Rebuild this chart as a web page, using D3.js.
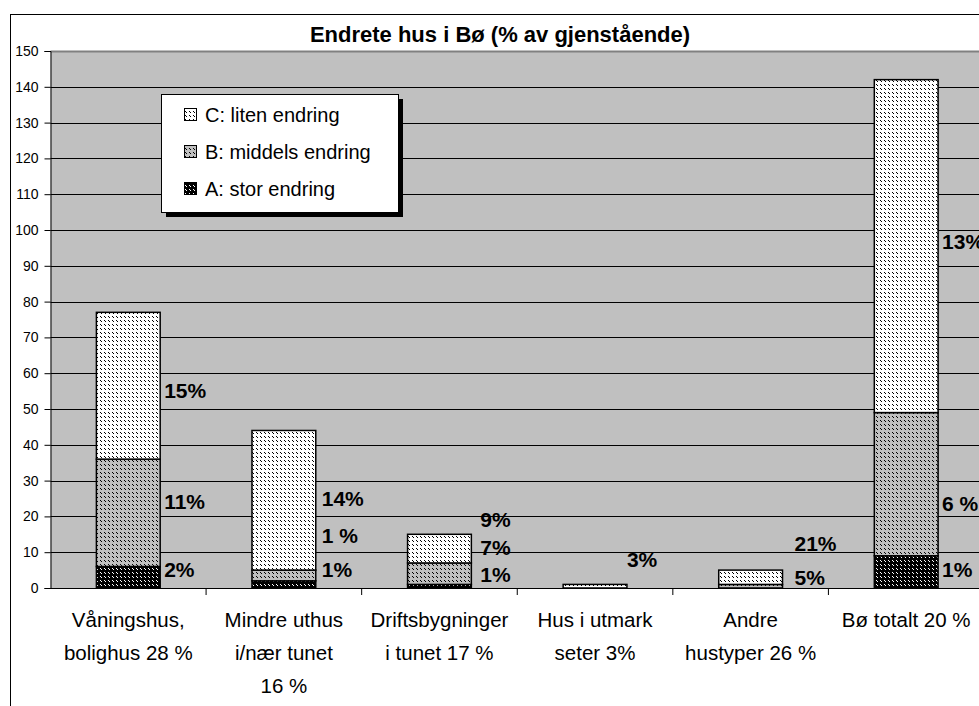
<!DOCTYPE html>
<html>
<head>
<meta charset="utf-8">
<script src="https://cdn.jsdelivr.net/npm/d3@7"></script>
<style>
  body { margin: 0; background: #fff; }
  svg { display: block; font-family: Arial, "Liberation Sans", sans-serif; }
</style>
</head>
<body>
<div id="chart"></div>
<script>
const title = "Endrete hus i Bø (% av gjenstående)";
const categories = [
    ["Våningshus,", "bolighus 28 %"],
    ["Mindre uthus", "i/nær tunet", "16 %"],
    ["Driftsbygninger", "i tunet 17 %"],
    ["Hus i utmark", "seter 3%"],
    ["Andre", "hustyper 26 %"],
    ["Bø totalt 20 %"]
];
const seriesNames = ["A: stor endring", "B: middels endring", "C: liten endring"];
const stor = [6, 2, 1, 0, 0, 9];
const middels = [30, 3, 6, 0, 1, 40];
const liten = [41, 39, 8, 1, 4, 93];
const yTicks = [0, 10, 20, 30, 40, 50, 60, 70, 80, 90, 100, 110, 120, 130, 140, 150];

// percent labels per series, and the value height where each label sits
const labelsA = ["2%", "1%", "1%", "", "", "1%"];
const labelsB = ["11%", "1 %", "7%", "", "5%", "6 %"];
const labelsC = ["15%", "14%", "9%", "3%", "21%", "13%"];
const labelAtA = [5, 5, 3.6, 0, 0, 5];
const labelAtB = [24.1, 14.5, 11.3, 0, 2.9, 23.7];
const labelAtC = [55, 25, 19, 7.8, 12.3, 96.7];
const labelDx = [4, 6, 9, 0, 12, 4];

const width = 979, height = 706;
const plot = { left: 50.5, top: 51, right: 984, bottom: 588 };

const svg = d3.select("#chart").append("svg")
    .attr("width", width)
    .attr("height", height);

// fill patterns
const defs = svg.append("defs");
function addPattern(id, bg, dot) {
    let p = defs.append("pattern")
        .attr("id", id)
        .attr("patternUnits", "userSpaceOnUse")
        .attr("width", 4).attr("height", 4);
    p.append("rect").attr("width", 4).attr("height", 4).attr("fill", bg);
    p.append("rect").attr("x", 0).attr("y", 0).attr("width", 1).attr("height", 1).attr("fill", dot);
    p.append("rect").attr("x", 1).attr("y", 1).attr("width", 1).attr("height", 1).attr("fill", dot);
}
addPattern("patA", "#000", "#fff");
addPattern("patB", "#c0c0c0", "#000");
addPattern("patC", "#fff", "#000");
const fills = ["url(#patA)", "url(#patB)", "url(#patC)"];

// outer chart frame
svg.append("rect")
    .attr("x", 10.5).attr("y", 14.5)
    .attr("width", width + 20).attr("height", height + 20)
    .attr("fill", "#fff").attr("stroke", "#000");

svg.append("text")
    .attr("x", 500).attr("y", 34)
    .attr("dy", "0.35em")
    .attr("text-anchor", "middle")
    .attr("font-weight", "bold")
    .attr("font-size", 22)
    .text(title);

const x = d3.scaleBand()
    .domain(d3.range(categories.length))
    .range([plot.left, plot.right]);

const y = d3.scaleLinear()
    .domain([0, 150])
    .range([plot.bottom, plot.top]);

svg.append("rect")
    .attr("x", plot.left).attr("y", plot.top)
    .attr("width", plot.right - plot.left).attr("height", plot.bottom - plot.top)
    .attr("fill", "#c0c0c0");

svg.append("g")
    .selectAll("line")
    .data(yTicks.filter(d => d > 0))
    .join("line")
    .attr("x1", plot.left).attr("x2", plot.right)
    .attr("y1", d => Math.round(y(d)) + 0.5)
    .attr("y2", d => Math.round(y(d)) + 0.5)
    .attr("stroke", d => d == 150 ? "#808080" : "#000")
    .attr("stroke-width", d => d == 150 ? 2 : 1);

// stacked bars
const rows = categories.map((c, i) => ({ i: i, vals: [stor[i], middels[i], liten[i]] }));
const stack = d3.stack().keys([0, 1, 2]).value((d, k) => d.vals[k]);
const layers = stack(rows);

const barW = x.bandwidth() * 0.41;
const barX = i => x(i) + (x.bandwidth() - barW) / 2;

svg.append("g")
    .selectAll("g")
    .data(layers)
    .join("g")
    .attr("fill", (d, k) => fills[k])
    .selectAll("rect")
    .data(d => d.filter(s => s[1] > s[0]))
    .join("rect")
    .attr("x", d => barX(d.data.i))
    .attr("y", d => y(d[1]))
    .attr("width", barW)
    .attr("height", d => y(d[0]) - y(d[1]))
    .attr("stroke", "#000")
    .attr("stroke-width", 1.5);

// percent labels
const labelSets = [[labelsA, labelAtA], [labelsB, labelAtB], [labelsC, labelAtC]];
const labelData = [];
labelSets.forEach(([texts, at]) => {
    texts.forEach((t, i) => { if (t) labelData.push({ i: i, text: t, v: at[i] }); });
});
svg.append("g")
    .selectAll("text")
    .data(labelData)
    .join("text")
    .attr("x", d => barX(d.i) + barW + labelDx[d.i])
    .attr("y", d => y(d.v))
    .attr("dy", "0.35em")
    .attr("font-weight", "bold")
    .attr("font-size", 21)
    .text(d => d.text);

// axes
const yAxis = d3.axisLeft(y).tickValues(yTicks).tickSize(6).tickPadding(6);
const yg = svg.append("g")
    .attr("transform", `translate(${plot.left},0)`)
    .call(yAxis);
yg.select(".domain").attr("stroke", "#000");
yg.selectAll("text").attr("font-size", 14).attr("fill", "#000").attr("font-family", "Arial, sans-serif");

svg.append("line")
    .attr("x1", plot.left).attr("x2", plot.right)
    .attr("y1", plot.bottom + 0.5).attr("y2", plot.bottom + 0.5)
    .attr("stroke", "#000");

svg.append("g")
    .selectAll("line")
    .data(d3.range(1, categories.length))
    .join("line")
    .attr("x1", d => x(d)).attr("x2", d => x(d))
    .attr("y1", plot.bottom).attr("y2", plot.bottom + 7)
    .attr("stroke", "#000");

const catLabels = svg.append("g")
    .selectAll("text")
    .data(categories)
    .join("text")
    .attr("text-anchor", "middle")
    .attr("font-size", 20.5);
catLabels.selectAll("tspan")
    .data((d, i) => d.map(line => ({ line: line, i: i })))
    .join("tspan")
    .attr("x", d => x(d.i) + x.bandwidth() / 2)
    .attr("y", (d, j) => 620 + j * 33)
    .attr("dy", "0.35em")
    .text(d => d.line);

// legend
const legend = svg.append("g").attr("transform", "translate(161,94)");
legend.append("rect")
    .attr("x", 5).attr("y", 5).attr("width", 237).attr("height", 118)
    .attr("fill", "#000");
legend.append("rect")
    .attr("x", 0.5).attr("y", 0.5).attr("width", 237).attr("height", 118)
    .attr("fill", "#fff").attr("stroke", "#000");
const legItems = legend.selectAll("g.item")
    .data([2, 1, 0])
    .join("g")
    .attr("class", "item")
    .attr("transform", (d, j) => `translate(0,${21 + j * 37})`);
legItems.append("rect")
    .attr("x", 23.5).attr("y", -6.5).attr("width", 12).attr("height", 12)
    .attr("fill", d => fills[d]).attr("stroke", "#000");
legItems.append("text")
    .attr("x", 44).attr("dy", "0.35em")
    .attr("font-size", 20)
    .text(d => seriesNames[d]);
</script>
</body>
</html>
